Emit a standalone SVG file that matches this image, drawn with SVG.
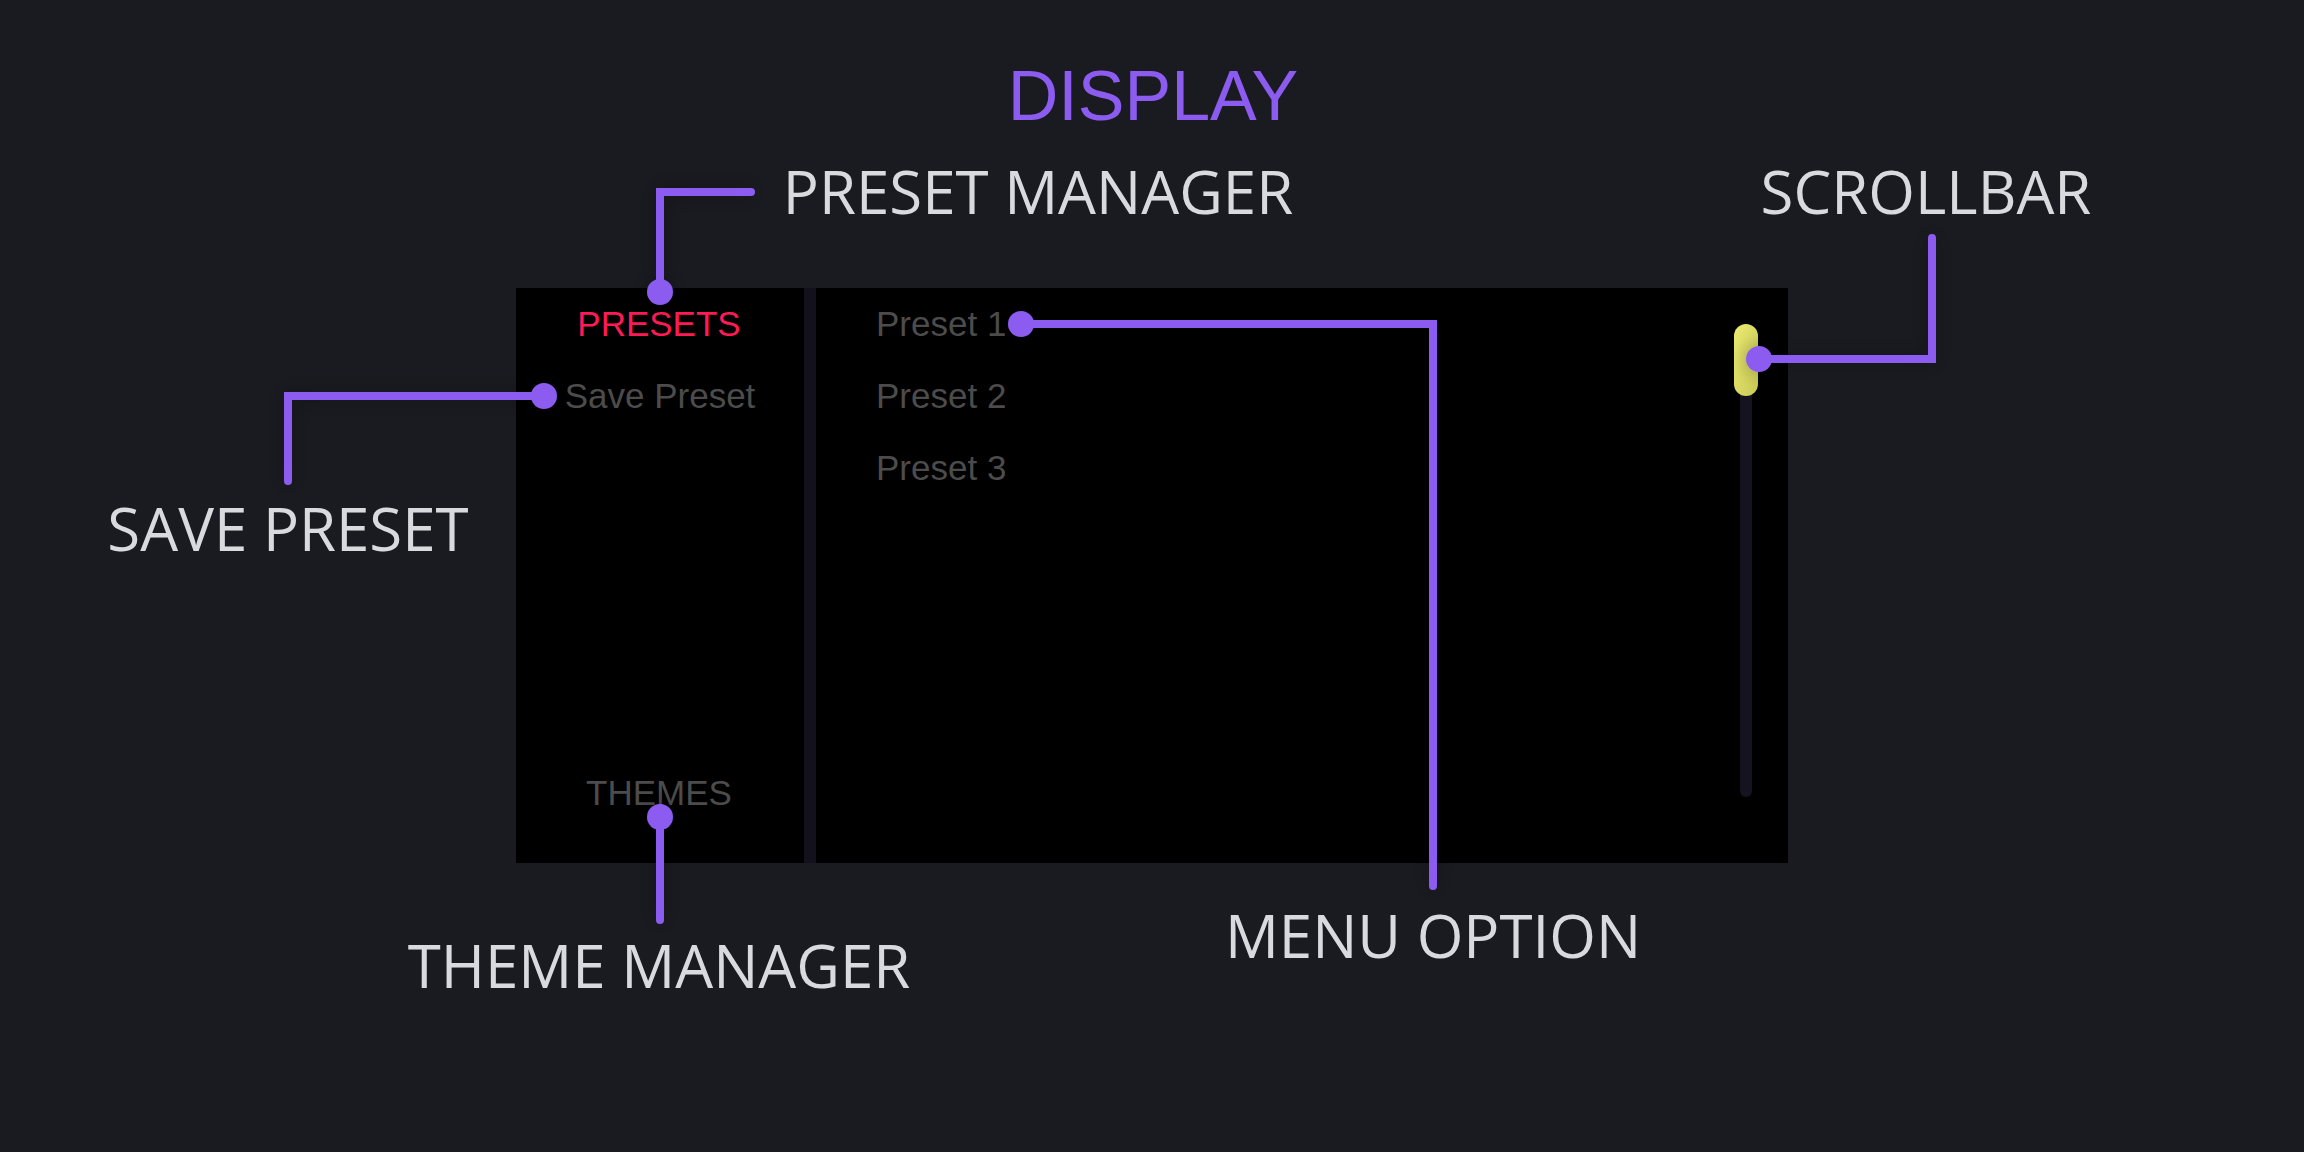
<svg xmlns="http://www.w3.org/2000/svg" width="2304" height="1152" viewBox="0 0 2304 1152">
  <defs>
    <linearGradient id="thumbGrad" x1="0" y1="0" x2="1" y2="1">
      <stop offset="0" stop-color="#ecec72"/>
      <stop offset="1" stop-color="#c9c957"/>
    </linearGradient>
    <filter id="glow" x="-50%" y="-50%" width="200%" height="200%">
      <feDropShadow dx="0" dy="0" stdDeviation="10" flood-color="#000000" flood-opacity="0.35"/>
    </filter>
  </defs>
  <style>
    .label { font-family: "Open Sans", "Noto Sans", sans-serif; font-size: 60px; fill: #d8dadd; text-anchor: middle; }
    .ui { font-family: "Liberation Sans", Arial, sans-serif; font-size: 35px; fill: #4c4c4c; }
    .conn { fill: none; stroke: #8c5cf0; stroke-width: 8; stroke-linecap: round; stroke-linejoin: miter; }
    .dot { fill: #8c5cf0; }
  </style>
  <rect x="0" y="0" width="2304" height="1152" fill="#1a1b20"/>

  <text x="1153" y="120" font-family="Liberation Sans, Arial, sans-serif" font-size="70" fill="#8c5cf0" text-anchor="middle">DISPLAY</text>

  <g id="display">
    <rect x="516" y="288" width="288" height="575" fill="#000000"/>
    <rect x="804" y="288" width="12" height="575" fill="#13121c"/>
    <rect x="816" y="288" width="972" height="575" fill="#000000"/>
  </g>

  <g id="presets-tab">
    <text x="659" y="336" font-family="Liberation Sans, Arial, sans-serif" font-size="35" fill="#ff1a55" text-anchor="middle">PRESETS</text>
  </g>
  <g id="save-preset-item">
    <text class="ui" x="660" y="408" text-anchor="middle">Save Preset</text>
  </g>
  <g id="themes-tab">
    <text class="ui" x="659" y="805" text-anchor="middle">THEMES</text>
  </g>
  <g id="preset-list">
    <text class="ui" x="876" y="336">Preset 1</text>
    <text class="ui" x="876" y="408">Preset 2</text>
    <text class="ui" x="876" y="480">Preset 3</text>
  </g>
  <g id="scrollbar">
    <rect x="1740" y="380" width="12" height="417" rx="6" fill="#15131f"/>
    <rect x="1734" y="324" width="24" height="72" rx="12" fill="url(#thumbGrad)"/>
  </g>

  <g id="label-preset-manager"><text class="label" x="1038" y="214">PRESET MANAGER</text></g>
  <g id="label-scrollbar"><text class="label" x="1926" y="214">SCROLLBAR</text></g>
  <g id="label-save-preset"><text class="label" x="288" y="551">SAVE PRESET</text></g>
  <g id="label-theme-manager"><text class="label" x="659" y="988">THEME MANAGER</text></g>
  <g id="label-menu-option"><text class="label" x="1433" y="958">MENU OPTION</text></g>

  <g id="connectors" filter="url(#glow)">
    <path class="conn" d="M660 292 V192 H751"/>
    <circle class="dot" cx="660" cy="292" r="13"/>
    <path class="conn" d="M544 396 H288 V481"/>
    <circle class="dot" cx="544" cy="396" r="13"/>
    <path class="conn" d="M660 817 V920"/>
    <circle class="dot" cx="660" cy="817" r="13"/>
    <path class="conn" d="M1021 324 H1433 V886"/>
    <circle class="dot" cx="1021" cy="324" r="13"/>
    <path class="conn" d="M1759 359 H1932 V238"/>
    <circle class="dot" cx="1759" cy="359" r="13"/>
  </g>
</svg>
